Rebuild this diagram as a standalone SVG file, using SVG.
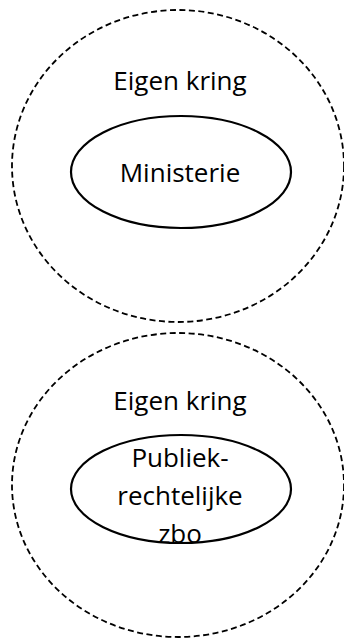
<svg xmlns="http://www.w3.org/2000/svg" width="344" height="641" viewBox="0 0 344 641">
<style>
.outer{fill:none;stroke:#000;stroke-width:1.8;stroke-dasharray:6 3.5}
.inner{fill:none;stroke:#000;stroke-width:2.2}
.t{font-family:"Open Sans","Liberation Sans",sans-serif;font-size:26px;fill:#000;text-anchor:middle}
</style>
<rect width="344" height="641" fill="#fff"/>
<g id="kring1">
<ellipse class="outer" cx="178" cy="166" rx="166" ry="156"/>
<text class="t" x="180" y="90">Eigen kring</text>
</g>
<g id="ministerie">
<ellipse class="inner" cx="181" cy="172" rx="110" ry="56"/>
<text class="t" x="180" y="182">Ministerie</text>
</g>
<g id="kring2">
<ellipse class="outer" cx="178" cy="485" rx="166" ry="152"/>
<text class="t" x="180" y="410">Eigen kring</text>
</g>
<g id="zbo">
<ellipse class="inner" cx="181" cy="489" rx="110" ry="54"/>
<text class="t" x="180" y="467">Publiek-</text>
<text class="t" x="180" y="505">rechtelijke</text>
<text class="t" x="180" y="543">zbo</text>
</g>
<g id="connectors"></g>
</svg>
